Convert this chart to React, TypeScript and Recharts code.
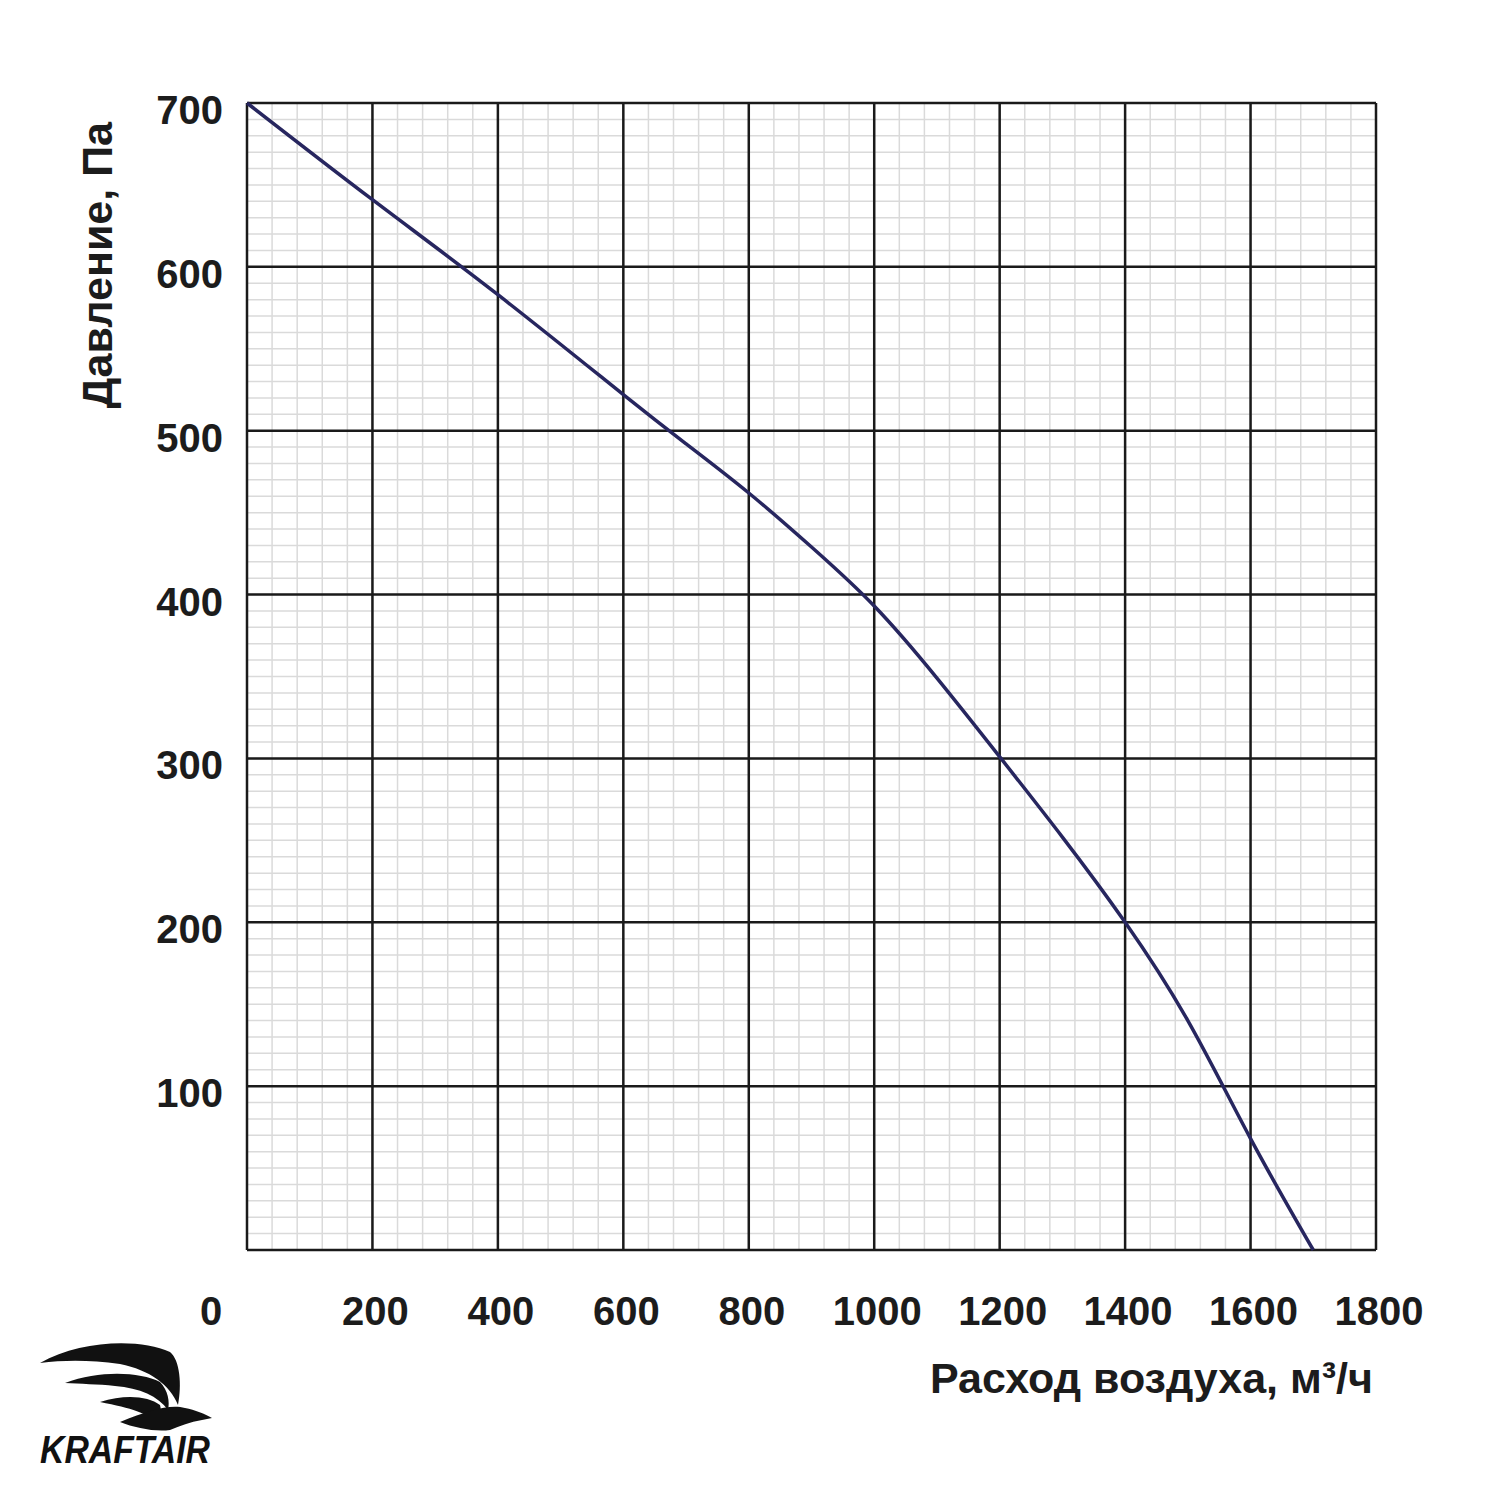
import { LineChart, Line, XAxis, YAxis, CartesianGrid, Label } from 'recharts';

// fan curve
const flow = [0, 200, 400, 600, 700, 800, 900, 1000, 1100, 1200, 1300, 1400, 1500, 1600, 1700];
const pressure = [700, 641, 583, 522, 492, 462, 429, 393, 349, 301, 252, 200, 140, 68, 0];

const xTicks = [0, 200, 400, 600, 800, 1000, 1200, 1400, 1600, 1800];
const yTicks = [0, 100, 200, 300, 400, 500, 600, 700];
const xMinorTicks = Array.from({ length: 46 }, (_, i) => i * 40);
const yMinorTicks = Array.from({ length: 71 }, (_, i) => i * 10);

const data = flow.map((q, i) => ({ q, p: pressure[i] }));

const FONT = '"Liberation Sans", Arial, sans-serif';
const INK = '#1c1c1c';

const XTick = (props: any) => {
    const { x, y, payload } = props;
    const v = payload.value;
    return (
        <text
            x={v === 0 ? x - 36 : x + 3}
            y={y}
            dy={67}
            textAnchor="middle"
            fontFamily={FONT}
            fontWeight="bold"
            fontSize={40}
            fill={INK}
        >
            {v}
        </text>
    );
};

const YTick = (props: any) => {
    const { x, y, payload } = props;
    if (payload.value === 0) return null;
    return (
        <text
            x={x - 16}
            y={y}
            dy={21}
            textAnchor="end"
            fontFamily={FONT}
            fontWeight="bold"
            fontSize={40}
            fill={INK}
        >
            {payload.value}
        </text>
    );
};

function Logo() {
    return (
        <svg width={240} height={160} style={{ position: 'absolute', left: 20, top: 1330 }}>
            <path d="M20 33 C60 10 120 8 150 22 C160 30 162 55 158 75 C150 55 130 40 100 34 C70 30 45 30 20 33 Z" fill="#111" />
            <path d="M45 53 C80 40 120 42 140 52 C148 60 150 72 148 80 C138 66 120 58 95 56 C78 54 60 54 45 53 Z" fill="#111" />
            <path d="M80 72 C105 64 128 66 140 75 C142 82 140 88 136 92 C128 84 112 78 80 72 Z" fill="#111" />
            <path d="M100 92 C130 80 150 74 165 78 C175 80 185 84 192 88 L182 90 C170 92 160 96 150 100 C135 102 115 98 100 92 Z" fill="#111" />
            <text
                x={20}
                y={133}
                textLength={170}
                lengthAdjust="spacingAndGlyphs"
                fontFamily={FONT}
                fontWeight="bold"
                fontStyle="italic"
                fontSize={38}
                fill="#111"
            >
                KRAFTAIR
            </text>
        </svg>
    );
}

export default function App() {
    return (
        <div style={{ position: 'absolute', left: 0, top: 0, width: 1500, height: 1500, background: '#fff' }}>
            <LineChart
                width={1500}
                height={1500}
                data={data}
                margin={{ top: 103, right: 124, bottom: 190, left: 147 }}
            >
                <XAxis xAxisId="minor" type="number" dataKey="q" domain={[0, 1800]} ticks={xMinorTicks} interval={0} hide />
                <YAxis yAxisId="minor" type="number" dataKey="p" domain={[0, 700]} ticks={yMinorTicks} interval={0} hide />
                <CartesianGrid xAxisId="minor" yAxisId="minor" stroke="#dadada" strokeWidth={1.5} />
                <XAxis
                    type="number"
                    dataKey="q"
                    domain={[0, 1800]}
                    ticks={xTicks}
                    interval={0}
                    axisLine={false}
                    tickLine={false}
                    height={60}
                    tick={<XTick />}
                >
                    <Label
                        content={() => (
                            <text
                                x={1373}
                                y={1393}
                                textAnchor="end"
                                fontFamily={FONT}
                                fontWeight="bold"
                                fontSize={43}
                                fill={INK}
                            >
                                Расход воздуха, м³/ч
                            </text>
                        )}
                    />
                </XAxis>
                <YAxis
                    type="number"
                    dataKey="p"
                    domain={[0, 700]}
                    ticks={yTicks}
                    interval={0}
                    axisLine={false}
                    tickLine={false}
                    width={100}
                    tick={<YTick />}
                >
                    <Label
                        content={() => (
                            <text
                                transform="translate(112,122) rotate(-90)"
                                x={0}
                                y={0}
                                textAnchor="end"
                                fontFamily={FONT}
                                fontWeight="bold"
                                fontSize={43}
                                fill={INK}
                            >
                                Давление, Па
                            </text>
                        )}
                    />
                </YAxis>
                <CartesianGrid stroke="#1a1a1a" strokeWidth={2.5} />
                <Line
                    type="natural"
                    dataKey="p"
                    stroke="#27265f"
                    strokeWidth={3.5}
                    dot={false}
                    isAnimationActive={false}
                />
            </LineChart>
            <Logo />
        </div>
    );
}
